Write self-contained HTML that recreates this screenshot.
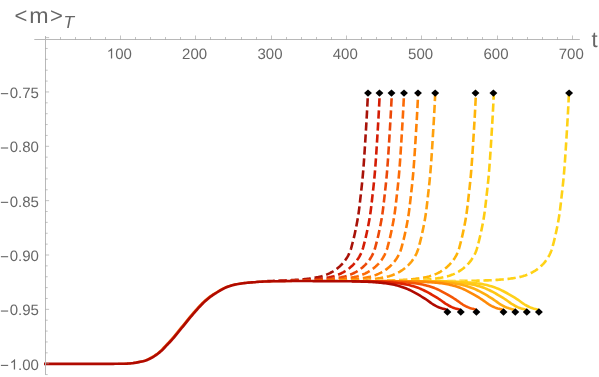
<!DOCTYPE html>
<html>
<head>
<meta charset="utf-8">
<title>plot</title>
<style>
html,body{margin:0;padding:0;background:#ffffff;}
body{width:599px;height:377px;overflow:hidden;font-family:"Liberation Sans",sans-serif;}
svg{display:block;will-change:transform;}
text{font-family:"Liberation Sans",sans-serif;text-rendering:geometricPrecision;}
</style>
</head>
<body>
<svg width="599" height="377" viewBox="0 0 599 377">
<defs><clipPath id="dclip"><polygon points="0,0 0,377 255,377 255.00,280.87 255.50,280.83 256.00,280.78 256.50,280.74 257.00,280.69 257.50,280.65 258.00,280.60 258.50,280.56 259.00,280.52 259.50,280.48 260.00,280.45 260.50,280.42 261.00,280.40 261.50,280.37 262.00,280.34 262.50,280.32 263.00,280.30 263.50,280.28 264.00,280.25 264.50,280.23 265.00,280.21 265.50,280.19 266.00,280.18 266.50,280.16 267.00,280.14 267.50,280.12 268.00,280.11 268.50,280.09 269.00,280.08 269.50,280.06 270.00,280.05 270.50,280.04 271.00,280.02 271.50,280.01 272.00,280.00 272.50,279.99 273.00,279.98 273.50,279.96 274.00,279.95 274.50,279.94 275.00,279.93 275.50,279.92 276.00,279.91 276.50,279.90 277.00,279.90 277.50,279.89 278.00,279.88 278.50,279.87 279.00,279.86 279.50,279.86 280.00,279.85 280.50,279.84 281.00,279.84 281.50,279.83 282.00,279.82 282.50,279.82 283.00,279.81 283.50,279.80 284.00,279.80 284.50,279.79 285.00,279.78 285.50,279.78 286.00,279.77 286.50,279.77 287.00,279.76 287.50,279.76 288.00,279.76 288.50,279.75 289.00,279.75 289.50,279.75 290.00,279.75 290.50,279.75 291.00,279.75 291.50,279.75 292.00,279.75 292.50,279.75 293.00,279.75 293.50,279.75 294.00,279.75 294.50,279.75 295.00,279.75 295.50,279.75 296.00,279.75 296.50,279.75 297.00,279.75 297.50,279.75 298.00,279.75 298.50,279.75 299.00,279.75 299.50,279.75 300.00,279.75 300.50,279.75 301.00,279.75 301.50,279.75 302.00,279.75 302.50,279.75 303.00,279.75 303.50,279.75 304.00,279.75 304.50,279.75 305.00,279.75 305.50,279.75 306.00,279.75 306.50,279.75 307.00,279.75 307.50,279.75 308.00,279.75 308.50,279.75 309.00,279.75 309.50,279.75 310.00,279.75 310.50,279.75 311.00,279.75 311.50,279.75 312.00,279.75 312.50,279.75 313.00,279.75 313.50,279.75 314.00,279.75 314.50,279.75 315.00,279.75 315.50,279.75 316.00,279.75 316.50,279.75 317.00,279.75 317.50,279.75 318.00,279.75 318.50,279.75 319.00,279.75 319.50,279.75 320.00,279.75 320.50,279.75 321.00,279.75 321.50,279.75 322.00,279.75 322.50,279.75 323.00,279.75 323.50,279.75 324.00,279.75 324.50,279.75 325.00,279.75 325.50,279.75 326.00,279.75 326.50,279.75 327.00,279.75 327.50,279.75 328.00,279.75 328.50,279.75 329.00,279.75 329.50,279.75 330.00,279.75 330.50,279.75 331.00,279.75 331.50,279.75 332.00,279.75 332.50,279.75 333.00,279.75 333.50,279.75 334.00,279.75 334.50,279.75 335.00,279.75 335.50,279.75 336.00,279.75 336.50,279.75 337.00,279.75 337.50,279.75 338.00,279.75 338.50,279.75 339.00,279.75 339.50,279.75 340.00,279.75 340.50,279.75 341.00,279.75 341.50,279.75 342.00,279.75 342.50,279.75 343.00,279.75 343.50,279.75 344.00,279.75 344.50,279.75 345.00,279.75 345.50,279.75 346.00,279.75 346.50,279.75 347.00,279.75 347.50,279.75 348.00,279.75 348.50,279.75 349.00,279.75 349.50,279.75 350.00,279.75 350.50,279.75 351.00,279.75 351.50,279.75 352.00,279.75 352.50,279.75 353.00,279.75 353.50,279.75 354.00,279.75 354.50,279.75 355.00,279.75 355.50,279.75 356.00,279.75 356.50,279.75 357.00,279.75 357.50,279.75 358.00,279.75 358.50,279.75 359.00,279.75 359.50,279.75 360.00,279.75 360.50,279.75 361.00,279.75 361.50,279.75 362.00,279.75 362.50,279.75 363.00,279.75 363.50,279.75 364.00,279.75 364.50,279.75 365.00,279.75 365.50,279.75 366.00,279.75 366.50,279.75 367.00,279.75 367.50,279.75 368.00,279.75 368.50,279.75 369.00,279.75 369.50,279.75 370.00,279.75 370.50,279.75 371.00,279.75 371.50,279.75 372.00,279.75 372.50,279.75 373.00,279.75 373.50,279.75 374.00,279.75 374.50,279.75 375.00,279.75 375.50,279.75 376.00,279.75 376.50,279.75 377.00,279.75 377.50,279.75 378.00,279.75 378.50,279.76 379.00,279.76 379.50,279.76 380.00,279.76 380.50,279.76 381.00,279.76 381.50,279.76 382.00,279.76 382.50,279.76 383.00,279.76 383.50,279.76 384.00,279.76 384.50,279.76 385.00,279.76 385.50,279.76 386.00,279.76 386.50,279.76 387.00,279.76 387.50,279.76 388.00,279.76 388.50,279.76 389.00,279.76 389.50,279.76 390.00,279.76 390.50,279.76 391.00,279.76 391.50,279.76 392.00,279.76 392.50,279.76 393.00,279.76 393.50,279.76 394.00,279.76 394.50,279.76 395.00,279.76 395.50,279.76 396.00,279.77 396.50,279.77 397.00,279.77 397.50,279.77 398.00,279.77 398.50,279.77 399.00,279.77 399.50,279.77 400.00,279.77 400.50,279.77 401.00,279.77 401.50,279.77 402.00,279.77 402.50,279.77 403.00,279.77 403.50,279.77 404.00,279.78 404.50,279.78 405.00,279.78 405.50,279.78 406.00,279.78 406.50,279.78 407.00,279.78 407.50,279.78 408.00,279.78 408.50,279.78 409.00,279.78 409.50,279.79 410.00,279.79 410.50,279.79 411.00,279.79 411.50,279.79 412.00,279.79 412.50,279.79 413.00,279.79 413.50,279.80 414.00,279.80 414.50,279.80 415.00,279.80 415.50,279.80 416.00,279.80 416.50,279.80 417.00,279.81 417.50,279.81 418.00,279.81 418.50,279.81 419.00,279.81 419.50,279.82 420.00,279.82 420.50,279.82 421.00,279.82 421.50,279.82 422.00,279.83 422.50,279.83 423.00,279.83 423.50,279.83 424.00,279.84 424.50,279.84 425.00,279.84 425.50,279.85 426.00,279.85 426.50,279.85 427.00,279.86 427.50,279.86 428.00,279.86 428.50,279.87 429.00,279.87 429.50,279.87 430.00,279.88 430.50,279.88 431.00,279.89 431.50,279.89 432.00,279.89 432.50,279.90 433.00,279.90 433.50,279.91 434.00,279.91 434.50,279.92 435.00,279.92 435.50,279.93 436.00,279.94 436.50,279.94 437.00,279.95 437.50,279.95 438.00,279.96 438.50,279.97 439.00,279.97 439.50,279.98 440.00,279.99 440.50,280.00 441.00,280.00 441.50,280.01 442.00,280.02 442.50,280.03 443.00,280.04 443.50,280.05 444.00,280.06 444.50,280.07 445.00,280.08 445.50,280.09 446.00,280.10 446.50,280.11 447.00,280.12 447.50,280.13 448.00,280.14 448.50,280.15 449.00,280.17 449.50,280.18 450.00,280.19 450.50,280.21 451.00,280.22 451.50,280.24 452.00,280.25 452.50,280.27 453.00,280.29 453.50,280.30 454.00,280.32 454.50,280.34 455.00,280.36 455.50,280.38 456.00,280.40 456.50,280.42 457.00,280.44 457.50,280.46 458.00,280.48 458.50,280.51 459.00,280.53 459.50,280.56 460.00,280.58 460.50,280.61 461.00,280.63 461.50,280.66 462.00,280.69 462.50,280.72 463.00,280.75 463.50,280.78 464.00,280.82 464.50,280.85 465.00,280.89 465.50,280.92 466.00,280.96 466.50,281.00 467.00,281.04 467.50,281.08 468.00,281.12 468.50,281.16 469.00,281.20 469.50,281.24 470.00,281.28 470.50,281.33 471.00,281.37 471.50,281.42 472.00,281.46 472.50,281.51 473.00,281.56 473.50,281.61 474.00,281.67 474.50,281.72 475.00,281.78 475.50,281.84 476.00,281.90 476.50,281.96 477.00,282.02 477.50,282.09 478.00,282.16 478.50,282.23 479.00,282.30 479.50,282.37 480.00,282.45 480.50,282.53 481.00,282.61 481.50,282.70 482.00,282.79 482.50,282.88 483.00,282.97 483.50,283.07 484.00,283.17 484.50,283.27 485.00,283.37 485.50,283.48 486.00,283.60 486.50,283.72 487.00,283.84 487.50,283.96 488.00,284.09 488.50,284.23 489.00,284.37 489.50,284.51 490.00,284.65 490.50,284.80 491.00,284.94 491.50,285.10 492.00,285.25 492.50,285.41 493.00,285.57 493.50,285.73 494.00,285.90 494.50,286.07 495.00,286.24 495.50,286.42 496.00,286.60 496.50,286.79 497.00,286.98 497.50,287.18 498.00,287.38 498.50,287.59 499.00,287.80 499.50,288.03 500.00,288.25 500.50,288.49 501.00,288.73 501.50,288.97 502.00,289.22 502.50,289.48 503.00,289.73 503.50,289.99 504.00,290.26 504.50,290.52 505.00,290.78 505.50,291.05 506.00,291.32 506.50,291.59 507.00,291.86 507.50,292.14 508.00,292.41 508.50,292.70 509.00,292.98 509.50,293.27 510.00,293.56 510.50,293.85 511.00,294.14 511.50,294.44 512.00,294.74 512.50,295.04 513.00,295.34 513.50,295.65 514.00,295.96 514.50,296.27 515.00,296.58 515.50,296.90 516.00,297.21 516.50,297.53 517.00,297.86 517.50,298.19 518.00,298.52 518.50,298.85 519.00,299.20 519.50,299.56 520.00,299.92 520.50,300.29 521.00,300.66 521.50,301.03 522.00,301.40 522.50,301.76 523.00,302.12 523.50,302.46 524.00,302.79 524.50,303.10 525.00,303.39 525.50,303.68 526.00,303.96 526.50,304.24 527.00,304.51 527.50,304.77 528.00,305.03 528.50,305.28 529.00,305.52 529.50,305.75 530.00,305.97 530.50,306.17 531.00,306.37 531.50,306.55 532.00,306.73 532.50,306.89 533.00,307.04 533.50,307.19 534.00,307.33 534.50,307.46 535.00,307.59 535.50,307.72 536.00,307.85 536.50,307.98 537.00,308.12 537.50,308.24 538.00,308.37 538.00,377 599,377 599,0"/></clipPath></defs>
<rect x="0" y="0" width="599" height="377" fill="#ffffff"/>
<g id="curves" fill="none" stroke-width="2.6" stroke-linejoin="round" stroke-linecap="butt">
<g clip-path="url(#dclip)">
<path d="M266.52,281.23 L267.73,281.17 L268.93,281.12 L270.13,281.07 L271.33,281.02 L272.53,280.97 L273.73,280.92 L274.93,280.87 L276.13,280.82 L277.33,280.77 L278.53,280.72 L279.73,280.68 L280.93,280.63 L282.13,280.57 L283.33,280.52 L284.53,280.46 L285.73,280.41 L286.93,280.35 L288.13,280.29 L289.33,280.24 L290.53,280.18 L291.73,280.12 L292.93,280.05 L294.13,279.99 L295.33,279.91 L296.53,279.84 L297.73,279.75 L298.93,279.67 L300.13,279.57 L301.33,279.47 L302.53,279.36 L303.73,279.25 L304.93,279.13 L306.13,279.00 L307.33,278.86 L308.53,278.72 L309.73,278.56 L310.93,278.40 L312.13,278.23 L313.33,278.04 L314.53,277.84 L315.73,277.63 L316.93,277.40 L318.13,277.15 L319.33,276.87 L320.53,276.57 L321.73,276.24 L322.93,275.88 L324.13,275.49 L325.33,275.06 L326.53,274.60 L327.73,274.09 L328.83,273.60 L329.93,273.07 L331.03,272.50 L332.13,271.90 L333.23,271.26 L334.33,270.56 L335.33,269.89 L336.33,269.17 L337.33,268.40 L338.33,267.58 L339.33,266.71 L340.23,265.88 L341.13,265.01 L342.03,264.10 L342.93,263.12 L343.73,262.18 L344.53,261.17 L345.33,260.07 L346.03,259.05 L346.73,257.98 L347.43,256.83 L348.03,255.77 L348.63,254.63 L349.23,253.38 L349.73,252.23 L350.23,250.99 L350.73,249.59 L351.13,248.28 L351.53,246.82 L351.93,245.29 L352.33,243.78 L352.73,242.25 L353.03,241.08 L353.33,239.88 L353.63,238.65 L353.93,237.39 L354.23,236.10 L354.53,234.78 L354.83,233.43 L355.13,232.04 L355.43,230.61 L355.73,229.15 L356.03,227.68 L356.33,226.19 L356.63,224.67 L356.93,223.11 L357.23,221.49 L357.53,219.82 L357.83,218.06 L358.03,216.84 L358.23,215.58 L358.43,214.26 L358.63,212.88 L358.83,211.42 L359.03,209.89 L359.23,208.30 L359.43,206.65 L359.63,204.95 L359.83,203.22 L360.03,201.46 L360.23,199.69 L360.43,197.91 L360.63,196.15 L360.83,194.39 L361.03,192.62 L361.23,190.85 L361.43,189.05 L361.63,187.23 L361.83,185.37 L362.03,183.47 L362.23,181.52 L362.43,179.51 L362.63,177.41 L362.83,175.24 L363.03,172.96 L363.23,170.57 L363.33,169.33 L363.43,168.07 L363.53,166.78 L363.63,165.47 L363.73,164.13 L363.83,162.76 L363.93,161.38 L364.03,159.97 L364.13,158.53 L364.23,157.08 L364.33,155.61 L364.43,154.12 L364.53,152.61 L364.63,151.08 L364.73,149.54 L364.83,147.99 L364.93,146.42 L365.03,144.85 L365.13,143.26 L365.23,141.66 L365.33,140.06 L365.43,138.46 L365.53,136.85 L365.63,135.24 L365.73,133.62 L365.83,132.00 L365.93,130.38 L366.03,128.74 L366.13,127.10 L366.23,125.44 L366.33,123.77 L366.43,122.08 L366.53,120.37 L366.63,118.65 L366.73,116.90 L366.83,115.12 L366.93,113.31 L367.03,111.48 L367.13,109.61 L367.23,107.70 L367.33,105.76 L367.43,103.77 L367.53,101.74 L367.63,99.64 L367.73,97.49 L367.83,95.29 L367.93,93.05 L368.00,91.60" stroke="#a81208" stroke-dasharray="8.289 3.750"/>
<path d="M278.57,280.94 L279.78,280.90 L280.98,280.87 L282.18,280.84 L283.38,280.80 L284.58,280.76 L285.78,280.73 L286.98,280.69 L288.18,280.66 L289.38,280.63 L290.58,280.60 L291.78,280.57 L292.98,280.53 L294.18,280.50 L295.38,280.46 L296.58,280.42 L297.78,280.37 L298.98,280.33 L300.18,280.28 L301.38,280.22 L302.58,280.17 L303.78,280.11 L304.98,280.04 L306.18,279.97 L307.38,279.90 L308.58,279.82 L309.78,279.74 L310.98,279.65 L312.18,279.55 L313.38,279.45 L314.58,279.34 L315.78,279.23 L316.98,279.10 L318.18,278.97 L319.38,278.83 L320.58,278.69 L321.78,278.53 L322.98,278.37 L324.18,278.19 L325.38,278.00 L326.58,277.80 L327.78,277.58 L328.98,277.35 L330.18,277.09 L331.38,276.81 L332.58,276.50 L333.78,276.17 L334.98,275.80 L336.18,275.40 L337.38,274.97 L338.58,274.49 L339.78,273.98 L340.88,273.48 L341.98,272.94 L343.08,272.37 L344.18,271.76 L345.28,271.10 L346.38,270.40 L347.38,269.71 L348.38,268.98 L349.38,268.20 L350.38,267.37 L351.28,266.57 L352.18,265.74 L353.08,264.86 L353.98,263.94 L354.88,262.95 L355.68,262.00 L356.48,260.97 L357.28,259.86 L357.98,258.83 L358.68,257.74 L359.38,256.57 L359.98,255.50 L360.58,254.33 L361.18,253.04 L361.68,251.87 L362.18,250.59 L362.58,249.44 L362.98,248.10 L363.38,246.63 L363.78,245.10 L364.18,243.59 L364.58,242.06 L364.88,240.88 L365.18,239.68 L365.48,238.44 L365.78,237.18 L366.08,235.89 L366.38,234.56 L366.68,233.20 L366.98,231.81 L367.28,230.37 L367.58,228.91 L367.88,227.44 L368.18,225.94 L368.48,224.41 L368.78,222.84 L369.08,221.22 L369.38,219.53 L369.68,217.76 L369.88,216.53 L370.08,215.25 L370.28,213.92 L370.48,212.52 L370.68,211.05 L370.88,209.50 L371.08,207.89 L371.28,206.23 L371.48,204.52 L371.68,202.78 L371.88,201.02 L372.08,199.24 L372.28,197.47 L372.48,195.71 L372.68,193.95 L372.88,192.18 L373.08,190.40 L373.28,188.60 L373.48,186.77 L373.68,184.90 L373.88,182.99 L374.08,181.02 L374.28,178.99 L374.48,176.88 L374.68,174.68 L374.88,172.37 L375.08,169.96 L375.18,168.71 L375.28,167.43 L375.38,166.13 L375.48,164.80 L375.58,163.45 L375.68,162.07 L375.78,160.67 L375.88,159.25 L375.98,157.81 L376.08,156.35 L376.18,154.87 L376.28,153.36 L376.38,151.85 L376.48,150.32 L376.58,148.77 L376.68,147.21 L376.78,145.64 L376.88,144.05 L376.98,142.46 L377.08,140.86 L377.18,139.26 L377.28,137.65 L377.38,136.04 L377.48,134.43 L377.58,132.81 L377.68,131.19 L377.78,129.56 L377.88,127.92 L377.98,126.27 L378.08,124.61 L378.18,122.93 L378.28,121.23 L378.38,119.51 L378.48,117.77 L378.58,116.01 L378.68,114.22 L378.78,112.40 L378.88,110.55 L378.98,108.66 L379.08,106.74 L379.18,104.77 L379.28,102.76 L379.38,100.70 L379.48,98.58 L379.58,96.40 L379.68,94.18 L379.78,91.92 L379.80,91.60" stroke="#d41c04" stroke-dasharray="8.277 3.750"/>
<path d="M290.62,280.82 L291.83,280.80 L293.03,280.78 L294.23,280.77 L295.43,280.75 L296.63,280.73 L297.83,280.70 L299.03,280.68 L300.23,280.65 L301.43,280.63 L302.63,280.60 L303.83,280.57 L305.03,280.53 L306.23,280.50 L307.43,280.46 L308.63,280.42 L309.83,280.38 L311.03,280.33 L312.23,280.28 L313.43,280.23 L314.63,280.17 L315.83,280.11 L317.03,280.04 L318.23,279.97 L319.43,279.90 L320.63,279.82 L321.83,279.74 L323.03,279.65 L324.23,279.55 L325.43,279.45 L326.63,279.35 L327.83,279.23 L329.03,279.11 L330.23,278.98 L331.43,278.84 L332.63,278.69 L333.83,278.54 L335.03,278.37 L336.23,278.20 L337.43,278.01 L338.63,277.81 L339.83,277.59 L341.03,277.36 L342.23,277.10 L343.43,276.82 L344.63,276.52 L345.83,276.18 L347.03,275.82 L348.23,275.42 L349.43,274.98 L350.63,274.51 L351.83,274.01 L352.93,273.51 L354.03,272.97 L355.13,272.40 L356.23,271.79 L357.33,271.13 L358.43,270.43 L359.43,269.75 L360.43,269.02 L361.43,268.24 L362.43,267.41 L363.43,266.53 L364.33,265.69 L365.23,264.81 L366.13,263.88 L367.03,262.89 L367.83,261.94 L368.63,260.91 L369.33,259.93 L370.03,258.90 L370.73,257.82 L371.43,256.66 L372.03,255.59 L372.63,254.43 L373.23,253.16 L373.73,251.99 L374.23,250.72 L374.73,249.28 L375.13,247.92 L375.53,246.44 L375.93,244.91 L376.33,243.40 L376.73,241.86 L377.03,240.68 L377.33,239.47 L377.63,238.23 L377.93,236.97 L378.23,235.67 L378.53,234.34 L378.83,232.97 L379.13,231.57 L379.43,230.13 L379.73,228.67 L380.03,227.19 L380.33,225.69 L380.63,224.15 L380.93,222.58 L381.23,220.94 L381.53,219.24 L381.83,217.46 L382.03,216.22 L382.23,214.92 L382.43,213.58 L382.63,212.16 L382.83,210.67 L383.03,209.10 L383.23,207.48 L383.43,205.81 L383.63,204.09 L383.83,202.34 L384.03,200.57 L384.23,198.80 L384.43,197.03 L384.63,195.27 L384.83,193.51 L385.03,191.74 L385.23,189.95 L385.43,188.14 L385.63,186.31 L385.83,184.43 L386.03,182.51 L386.23,180.52 L386.43,178.47 L386.63,176.34 L386.83,174.11 L387.03,171.78 L387.13,170.57 L387.23,169.33 L387.33,168.07 L387.43,166.78 L387.53,165.47 L387.63,164.13 L387.73,162.76 L387.83,161.38 L387.93,159.97 L388.03,158.53 L388.13,157.08 L388.23,155.61 L388.33,154.12 L388.43,152.61 L388.53,151.08 L388.63,149.54 L388.73,147.99 L388.83,146.42 L388.93,144.85 L389.03,143.26 L389.13,141.66 L389.23,140.06 L389.33,138.46 L389.43,136.85 L389.53,135.24 L389.63,133.62 L389.73,132.00 L389.83,130.38 L389.93,128.74 L390.03,127.10 L390.13,125.44 L390.23,123.77 L390.33,122.08 L390.43,120.37 L390.53,118.65 L390.63,116.90 L390.73,115.12 L390.83,113.31 L390.93,111.48 L391.03,109.61 L391.13,107.70 L391.23,105.76 L391.33,103.77 L391.43,101.74 L391.53,99.64 L391.63,97.49 L391.73,95.29 L391.83,93.05 L391.90,91.60" stroke="#ec4808" stroke-dasharray="8.279 3.750"/>
<path d="M302.68,280.82 L303.88,280.80 L305.08,280.79 L306.28,280.77 L307.48,280.75 L308.68,280.73 L309.88,280.71 L311.08,280.68 L312.28,280.66 L313.48,280.63 L314.68,280.60 L315.88,280.57 L317.08,280.54 L318.28,280.50 L319.48,280.46 L320.68,280.42 L321.88,280.38 L323.08,280.33 L324.28,280.29 L325.48,280.23 L326.68,280.18 L327.88,280.12 L329.08,280.05 L330.28,279.98 L331.48,279.91 L332.68,279.83 L333.88,279.75 L335.08,279.66 L336.28,279.57 L337.48,279.47 L338.68,279.36 L339.88,279.25 L341.08,279.12 L342.28,278.99 L343.48,278.86 L344.68,278.71 L345.88,278.56 L347.08,278.39 L348.28,278.22 L349.48,278.03 L350.68,277.84 L351.88,277.62 L353.08,277.39 L354.28,277.14 L355.48,276.86 L356.68,276.56 L357.88,276.23 L359.08,275.86 L360.28,275.47 L361.48,275.04 L362.68,274.57 L363.88,274.07 L364.98,273.58 L366.08,273.04 L367.18,272.48 L368.28,271.87 L369.38,271.23 L370.48,270.53 L371.48,269.85 L372.48,269.13 L373.48,268.36 L374.48,267.54 L375.48,266.66 L376.38,265.83 L377.28,264.96 L378.18,264.04 L379.08,263.06 L379.88,262.12 L380.68,261.11 L381.48,260.00 L382.18,258.98 L382.88,257.90 L383.58,256.75 L384.18,255.68 L384.78,254.53 L385.38,253.27 L385.88,252.12 L386.38,250.86 L386.88,249.44 L387.28,248.10 L387.68,246.63 L388.08,245.10 L388.48,243.59 L388.88,242.06 L389.18,240.88 L389.48,239.68 L389.78,238.44 L390.08,237.18 L390.38,235.89 L390.68,234.56 L390.98,233.20 L391.28,231.81 L391.58,230.37 L391.88,228.91 L392.18,227.44 L392.48,225.94 L392.78,224.41 L393.08,222.84 L393.38,221.22 L393.68,219.53 L393.98,217.76 L394.18,216.53 L394.38,215.25 L394.58,213.92 L394.78,212.52 L394.98,211.05 L395.18,209.50 L395.38,207.89 L395.58,206.23 L395.78,204.52 L395.98,202.78 L396.18,201.02 L396.38,199.24 L396.58,197.47 L396.78,195.71 L396.98,193.95 L397.18,192.18 L397.38,190.40 L397.58,188.60 L397.78,186.77 L397.98,184.90 L398.18,182.99 L398.38,181.02 L398.58,178.99 L398.78,176.88 L398.98,174.68 L399.18,172.37 L399.38,169.96 L399.48,168.71 L399.58,167.43 L399.68,166.13 L399.78,164.80 L399.88,163.45 L399.98,162.07 L400.08,160.67 L400.18,159.25 L400.28,157.81 L400.38,156.35 L400.48,154.87 L400.58,153.36 L400.68,151.85 L400.78,150.32 L400.88,148.77 L400.98,147.21 L401.08,145.64 L401.18,144.05 L401.28,142.46 L401.38,140.86 L401.48,139.26 L401.58,137.65 L401.68,136.04 L401.78,134.43 L401.88,132.81 L401.98,131.19 L402.08,129.56 L402.18,127.92 L402.28,126.27 L402.38,124.61 L402.48,122.93 L402.58,121.23 L402.68,119.51 L402.78,117.77 L402.88,116.01 L402.98,114.22 L403.08,112.40 L403.18,110.55 L403.28,108.66 L403.38,106.74 L403.48,104.77 L403.58,102.76 L403.68,100.70 L403.78,98.58 L403.88,96.40 L403.98,94.18 L404.08,91.92 L404.10,91.60" stroke="#fc6a06" stroke-dasharray="8.286 3.750"/>
<path d="M314.73,280.84 L315.93,280.83 L317.13,280.82 L318.33,280.80 L319.53,280.78 L320.73,280.76 L321.93,280.74 L323.13,280.72 L324.33,280.70 L325.53,280.68 L326.73,280.65 L327.93,280.62 L329.13,280.59 L330.33,280.56 L331.53,280.53 L332.73,280.49 L333.93,280.45 L335.13,280.41 L336.33,280.37 L337.53,280.32 L338.73,280.27 L339.93,280.22 L341.13,280.16 L342.33,280.10 L343.53,280.03 L344.73,279.96 L345.93,279.89 L347.13,279.81 L348.33,279.72 L349.53,279.63 L350.73,279.54 L351.93,279.44 L353.13,279.33 L354.33,279.21 L355.53,279.09 L356.73,278.95 L357.93,278.81 L359.13,278.67 L360.33,278.51 L361.53,278.34 L362.73,278.17 L363.93,277.98 L365.13,277.78 L366.33,277.56 L367.53,277.32 L368.73,277.06 L369.93,276.78 L371.13,276.46 L372.33,276.12 L373.53,275.75 L374.73,275.35 L375.93,274.91 L377.13,274.43 L378.33,273.92 L379.43,273.41 L380.53,272.87 L381.63,272.29 L382.73,271.67 L383.83,271.01 L384.93,270.30 L385.93,269.61 L386.93,268.87 L387.93,268.08 L388.93,267.24 L389.83,266.44 L390.73,265.59 L391.63,264.71 L392.53,263.78 L393.43,262.78 L394.23,261.81 L395.03,260.77 L395.73,259.78 L396.43,258.75 L397.13,257.66 L397.83,256.49 L398.43,255.40 L399.03,254.22 L399.63,252.93 L400.13,251.75 L400.63,250.45 L401.03,249.28 L401.43,247.92 L401.83,246.44 L402.23,244.91 L402.63,243.40 L403.03,241.86 L403.33,240.68 L403.63,239.47 L403.93,238.23 L404.23,236.97 L404.53,235.67 L404.83,234.34 L405.13,232.97 L405.43,231.57 L405.73,230.13 L406.03,228.67 L406.33,227.19 L406.63,225.69 L406.93,224.15 L407.23,222.58 L407.53,220.94 L407.83,219.24 L408.13,217.46 L408.33,216.22 L408.53,214.92 L408.73,213.58 L408.93,212.16 L409.13,210.67 L409.33,209.10 L409.53,207.48 L409.73,205.81 L409.93,204.09 L410.13,202.34 L410.33,200.57 L410.53,198.80 L410.73,197.03 L410.93,195.27 L411.13,193.51 L411.33,191.74 L411.53,189.95 L411.73,188.14 L411.93,186.31 L412.13,184.43 L412.33,182.51 L412.53,180.52 L412.73,178.47 L412.93,176.34 L413.13,174.11 L413.33,171.78 L413.43,170.57 L413.53,169.33 L413.63,168.07 L413.73,166.78 L413.83,165.47 L413.93,164.13 L414.03,162.76 L414.13,161.38 L414.23,159.97 L414.33,158.53 L414.43,157.08 L414.53,155.61 L414.63,154.12 L414.73,152.61 L414.83,151.08 L414.93,149.54 L415.03,147.99 L415.13,146.42 L415.23,144.85 L415.33,143.26 L415.43,141.66 L415.53,140.06 L415.63,138.46 L415.73,136.85 L415.83,135.24 L415.93,133.62 L416.03,132.00 L416.13,130.38 L416.23,128.74 L416.33,127.10 L416.43,125.44 L416.53,123.77 L416.63,122.08 L416.73,120.37 L416.83,118.65 L416.93,116.90 L417.03,115.12 L417.13,113.31 L417.23,111.48 L417.33,109.61 L417.43,107.70 L417.53,105.76 L417.63,103.77 L417.73,101.74 L417.83,99.64 L417.93,97.49 L418.03,95.29 L418.13,93.05 L418.20,91.60" stroke="#ff8204" stroke-dasharray="8.312 3.750"/>
<path d="M326.78,280.89 L327.98,280.88 L329.18,280.87 L330.38,280.86 L331.58,280.85 L332.78,280.83 L333.98,280.82 L335.18,280.80 L336.38,280.79 L337.58,280.77 L338.78,280.75 L339.98,280.73 L341.18,280.70 L342.38,280.68 L343.58,280.66 L344.78,280.63 L345.98,280.60 L347.18,280.57 L348.38,280.53 L349.58,280.50 L350.78,280.46 L351.98,280.42 L353.18,280.38 L354.38,280.33 L355.58,280.28 L356.78,280.23 L357.98,280.17 L359.18,280.11 L360.38,280.05 L361.58,279.98 L362.78,279.90 L363.98,279.83 L365.18,279.74 L366.38,279.65 L367.58,279.56 L368.78,279.46 L369.98,279.35 L371.18,279.24 L372.38,279.11 L373.58,278.98 L374.78,278.84 L375.98,278.70 L377.18,278.54 L378.38,278.38 L379.58,278.21 L380.78,278.02 L381.98,277.82 L383.18,277.60 L384.38,277.37 L385.58,277.12 L386.78,276.84 L387.98,276.53 L389.18,276.20 L390.38,275.83 L391.58,275.43 L392.78,275.00 L393.98,274.53 L395.18,274.03 L396.28,273.53 L397.38,272.99 L398.48,272.43 L399.58,271.82 L400.68,271.17 L401.78,270.47 L402.78,269.78 L403.78,269.06 L404.78,268.28 L405.78,267.45 L406.78,266.57 L407.68,265.74 L408.58,264.86 L409.48,263.94 L410.38,262.95 L411.18,262.00 L411.98,260.97 L412.78,259.86 L413.48,258.83 L414.18,257.74 L414.88,256.57 L415.48,255.50 L416.08,254.33 L416.68,253.04 L417.18,251.87 L417.68,250.59 L418.08,249.44 L418.48,248.10 L418.88,246.63 L419.28,245.10 L419.68,243.59 L420.08,242.06 L420.38,240.88 L420.68,239.68 L420.98,238.44 L421.28,237.18 L421.58,235.89 L421.88,234.56 L422.18,233.20 L422.48,231.81 L422.78,230.37 L423.08,228.91 L423.38,227.44 L423.68,225.94 L423.98,224.41 L424.28,222.84 L424.58,221.22 L424.88,219.53 L425.18,217.76 L425.38,216.53 L425.58,215.25 L425.78,213.92 L425.98,212.52 L426.18,211.05 L426.38,209.50 L426.58,207.89 L426.78,206.23 L426.98,204.52 L427.18,202.78 L427.38,201.02 L427.58,199.24 L427.78,197.47 L427.98,195.71 L428.18,193.95 L428.38,192.18 L428.58,190.40 L428.78,188.60 L428.98,186.77 L429.18,184.90 L429.38,182.99 L429.58,181.02 L429.78,178.99 L429.98,176.88 L430.18,174.68 L430.38,172.37 L430.58,169.96 L430.68,168.71 L430.78,167.43 L430.88,166.13 L430.98,164.80 L431.08,163.45 L431.18,162.07 L431.28,160.67 L431.38,159.25 L431.48,157.81 L431.58,156.35 L431.68,154.87 L431.78,153.36 L431.88,151.85 L431.98,150.32 L432.08,148.77 L432.18,147.21 L432.28,145.64 L432.38,144.05 L432.48,142.46 L432.58,140.86 L432.68,139.26 L432.78,137.65 L432.88,136.04 L432.98,134.43 L433.08,132.81 L433.18,131.19 L433.28,129.56 L433.38,127.92 L433.48,126.27 L433.58,124.61 L433.68,122.93 L433.78,121.23 L433.88,119.51 L433.98,117.77 L434.08,116.01 L434.18,114.22 L434.28,112.40 L434.38,110.55 L434.48,108.66 L434.58,106.74 L434.68,104.77 L434.78,102.76 L434.88,100.70 L434.98,98.58 L435.08,96.40 L435.18,94.18 L435.28,91.92 L435.30,91.60" stroke="#ffa00c" stroke-dasharray="8.310 3.750"/>
<path d="M374.98,280.81 L376.18,280.80 L377.38,280.78 L378.58,280.76 L379.78,280.74 L380.98,280.72 L382.18,280.70 L383.38,280.67 L384.58,280.65 L385.78,280.62 L386.98,280.59 L388.18,280.56 L389.38,280.53 L390.58,280.49 L391.78,280.45 L392.98,280.41 L394.18,280.37 L395.38,280.32 L396.58,280.27 L397.78,280.21 L398.98,280.16 L400.18,280.09 L401.38,280.03 L402.58,279.96 L403.78,279.88 L404.98,279.81 L406.18,279.72 L407.38,279.63 L408.58,279.53 L409.78,279.43 L410.98,279.32 L412.18,279.21 L413.38,279.08 L414.58,278.95 L415.78,278.81 L416.98,278.66 L418.18,278.50 L419.38,278.34 L420.58,278.16 L421.78,277.97 L422.98,277.77 L424.18,277.55 L425.38,277.31 L426.58,277.05 L427.78,276.76 L428.98,276.45 L430.18,276.11 L431.38,275.74 L432.58,275.33 L433.78,274.89 L434.98,274.41 L436.18,273.90 L437.28,273.39 L438.38,272.84 L439.48,272.26 L440.58,271.64 L441.68,270.98 L442.78,270.27 L443.78,269.57 L444.78,268.83 L445.78,268.04 L446.78,267.20 L447.68,266.39 L448.58,265.55 L449.48,264.66 L450.38,263.72 L451.28,262.72 L452.08,261.75 L452.88,260.70 L453.58,259.71 L454.28,258.67 L454.98,257.58 L455.68,256.40 L456.28,255.31 L456.88,254.12 L457.48,252.82 L457.98,251.63 L458.48,250.32 L458.88,249.12 L459.28,247.74 L459.68,246.25 L460.08,244.72 L460.48,243.21 L460.88,241.67 L461.18,240.48 L461.48,239.27 L461.78,238.02 L462.08,236.75 L462.38,235.45 L462.68,234.11 L462.98,232.74 L463.28,231.33 L463.58,229.89 L463.88,228.42 L464.18,226.94 L464.48,225.43 L464.78,223.89 L465.08,222.31 L465.38,220.67 L465.68,218.95 L465.88,217.76 L466.08,216.53 L466.28,215.25 L466.48,213.92 L466.68,212.52 L466.88,211.05 L467.08,209.50 L467.28,207.89 L467.48,206.23 L467.68,204.52 L467.88,202.78 L468.08,201.02 L468.28,199.24 L468.48,197.47 L468.68,195.71 L468.88,193.95 L469.08,192.18 L469.28,190.40 L469.48,188.60 L469.68,186.77 L469.88,184.90 L470.08,182.99 L470.28,181.02 L470.48,178.99 L470.68,176.88 L470.88,174.68 L471.08,172.37 L471.28,169.96 L471.38,168.71 L471.48,167.43 L471.58,166.13 L471.68,164.80 L471.78,163.45 L471.88,162.07 L471.98,160.67 L472.08,159.25 L472.18,157.81 L472.28,156.35 L472.38,154.87 L472.48,153.36 L472.58,151.85 L472.68,150.32 L472.78,148.77 L472.88,147.21 L472.98,145.64 L473.08,144.05 L473.18,142.46 L473.28,140.86 L473.38,139.26 L473.48,137.65 L473.58,136.04 L473.68,134.43 L473.78,132.81 L473.88,131.19 L473.98,129.56 L474.08,127.92 L474.18,126.27 L474.28,124.61 L474.38,122.93 L474.48,121.23 L474.58,119.51 L474.68,117.77 L474.78,116.01 L474.88,114.22 L474.98,112.40 L475.08,110.55 L475.18,108.66 L475.28,106.74 L475.38,104.77 L475.48,102.76 L475.58,100.70 L475.68,98.58 L475.78,96.40 L475.88,94.18 L475.98,91.92 L476.00,91.60" stroke="#ffb408" stroke-dasharray="8.301 3.750"/>
<path d="M387.03,280.88 L388.23,280.87 L389.43,280.86 L390.63,280.84 L391.83,280.83 L393.03,280.81 L394.23,280.80 L395.43,280.78 L396.63,280.76 L397.83,280.74 L399.03,280.72 L400.23,280.70 L401.43,280.67 L402.63,280.65 L403.83,280.62 L405.03,280.59 L406.23,280.56 L407.43,280.52 L408.63,280.48 L409.83,280.45 L411.03,280.40 L412.23,280.36 L413.43,280.31 L414.63,280.26 L415.83,280.21 L417.03,280.15 L418.23,280.09 L419.43,280.02 L420.63,279.95 L421.83,279.88 L423.03,279.80 L424.23,279.71 L425.43,279.62 L426.63,279.52 L427.83,279.42 L429.03,279.31 L430.23,279.19 L431.43,279.07 L432.63,278.93 L433.83,278.79 L435.03,278.64 L436.23,278.48 L437.43,278.32 L438.63,278.14 L439.83,277.95 L441.03,277.74 L442.23,277.52 L443.43,277.28 L444.63,277.01 L445.83,276.73 L447.03,276.41 L448.23,276.06 L449.43,275.69 L450.63,275.28 L451.83,274.83 L453.03,274.35 L454.23,273.83 L455.33,273.31 L456.43,272.77 L457.53,272.18 L458.63,271.56 L459.73,270.89 L460.83,270.16 L461.83,269.46 L462.83,268.71 L463.83,267.92 L464.83,267.06 L465.73,266.25 L466.63,265.40 L467.53,264.51 L468.43,263.56 L469.23,262.66 L470.03,261.69 L470.83,260.63 L471.53,259.64 L472.23,258.60 L472.93,257.50 L473.63,256.31 L474.23,255.21 L474.83,254.02 L475.43,252.70 L475.93,251.50 L476.43,250.18 L476.83,248.96 L477.23,247.56 L477.63,246.06 L478.03,244.53 L478.43,243.02 L478.83,241.47 L479.13,240.28 L479.43,239.06 L479.73,237.81 L480.03,236.54 L480.33,235.23 L480.63,233.89 L480.93,232.51 L481.23,231.09 L481.53,229.64 L481.83,228.17 L482.13,226.69 L482.43,225.18 L482.73,223.63 L483.03,222.04 L483.33,220.38 L483.63,218.66 L483.83,217.46 L484.03,216.22 L484.23,214.92 L484.43,213.58 L484.63,212.16 L484.83,210.67 L485.03,209.10 L485.23,207.48 L485.43,205.81 L485.63,204.09 L485.83,202.34 L486.03,200.57 L486.23,198.80 L486.43,197.03 L486.63,195.27 L486.83,193.51 L487.03,191.74 L487.23,189.95 L487.43,188.14 L487.63,186.31 L487.83,184.43 L488.03,182.51 L488.23,180.52 L488.43,178.47 L488.63,176.34 L488.83,174.11 L489.03,171.78 L489.13,170.57 L489.23,169.33 L489.33,168.07 L489.43,166.78 L489.53,165.47 L489.63,164.13 L489.73,162.76 L489.83,161.38 L489.93,159.97 L490.03,158.53 L490.13,157.08 L490.23,155.61 L490.33,154.12 L490.43,152.61 L490.53,151.08 L490.63,149.54 L490.73,147.99 L490.83,146.42 L490.93,144.85 L491.03,143.26 L491.13,141.66 L491.23,140.06 L491.33,138.46 L491.43,136.85 L491.53,135.24 L491.63,133.62 L491.73,132.00 L491.83,130.38 L491.93,128.74 L492.03,127.10 L492.13,125.44 L492.23,123.77 L492.33,122.08 L492.43,120.37 L492.53,118.65 L492.63,116.90 L492.73,115.12 L492.83,113.31 L492.93,111.48 L493.03,109.61 L493.13,107.70 L493.23,105.76 L493.33,103.77 L493.43,101.74 L493.53,99.64 L493.63,97.49 L493.73,95.29 L493.83,93.05 L493.90,91.60" stroke="#ffcc10" stroke-dasharray="8.298 3.750"/>
<path d="M423.18,281.03 L424.38,281.03 L425.58,281.03 L426.78,281.03 L427.98,281.02 L429.18,281.02 L430.38,281.02 L431.58,281.02 L432.78,281.02 L433.98,281.01 L435.18,281.01 L436.38,281.01 L437.58,281.01 L438.78,281.00 L439.98,281.00 L441.18,281.00 L442.38,280.99 L443.58,280.99 L444.78,280.99 L445.98,280.98 L447.18,280.98 L448.38,280.97 L449.58,280.97 L450.78,280.96 L451.98,280.95 L453.18,280.95 L454.38,280.94 L455.58,280.93 L456.78,280.92 L457.98,280.91 L459.18,280.91 L460.38,280.90 L461.58,280.88 L462.78,280.87 L463.98,280.86 L465.18,280.85 L466.38,280.83 L467.58,280.82 L468.78,280.80 L469.98,280.79 L471.18,280.77 L472.38,280.75 L473.58,280.73 L474.78,280.71 L475.98,280.68 L477.18,280.66 L478.38,280.63 L479.58,280.60 L480.78,280.57 L481.98,280.54 L483.18,280.50 L484.38,280.46 L485.58,280.42 L486.78,280.38 L487.98,280.33 L489.18,280.29 L490.38,280.23 L491.58,280.18 L492.78,280.12 L493.98,280.05 L495.18,279.98 L496.38,279.91 L497.58,279.83 L498.78,279.75 L499.98,279.66 L501.18,279.57 L502.38,279.47 L503.58,279.36 L504.78,279.25 L505.98,279.12 L507.18,278.99 L508.38,278.86 L509.58,278.71 L510.78,278.56 L511.98,278.39 L513.18,278.22 L514.38,278.03 L515.58,277.84 L516.78,277.62 L517.98,277.39 L519.18,277.14 L520.38,276.86 L521.58,276.56 L522.78,276.23 L523.98,275.86 L525.18,275.47 L526.38,275.04 L527.58,274.57 L528.78,274.07 L529.88,273.58 L530.98,273.04 L532.08,272.48 L533.18,271.87 L534.28,271.23 L535.38,270.53 L536.38,269.85 L537.38,269.13 L538.38,268.36 L539.38,267.54 L540.38,266.66 L541.28,265.83 L542.18,264.96 L543.08,264.04 L543.98,263.06 L544.78,262.12 L545.58,261.11 L546.38,260.00 L547.08,258.98 L547.78,257.90 L548.48,256.75 L549.08,255.68 L549.68,254.53 L550.28,253.27 L550.78,252.12 L551.28,250.86 L551.78,249.44 L552.18,248.10 L552.58,246.63 L552.98,245.10 L553.38,243.59 L553.78,242.06 L554.08,240.88 L554.38,239.68 L554.68,238.44 L554.98,237.18 L555.28,235.89 L555.58,234.56 L555.88,233.20 L556.18,231.81 L556.48,230.37 L556.78,228.91 L557.08,227.44 L557.38,225.94 L557.68,224.41 L557.98,222.84 L558.28,221.22 L558.58,219.53 L558.88,217.76 L559.08,216.53 L559.28,215.25 L559.48,213.92 L559.68,212.52 L559.88,211.05 L560.08,209.50 L560.28,207.89 L560.48,206.23 L560.68,204.52 L560.88,202.78 L561.08,201.02 L561.28,199.24 L561.48,197.47 L561.68,195.71 L561.88,193.95 L562.08,192.18 L562.28,190.40 L562.48,188.60 L562.68,186.77 L562.88,184.90 L563.08,182.99 L563.28,181.02 L563.48,178.99 L563.68,176.88 L563.88,174.68 L564.08,172.37 L564.28,169.96 L564.38,168.71 L564.48,167.43 L564.58,166.13 L564.68,164.80 L564.78,163.45 L564.88,162.07 L564.98,160.67 L565.08,159.25 L565.18,157.81 L565.28,156.35 L565.38,154.87 L565.48,153.36 L565.58,151.85 L565.68,150.32 L565.78,148.77 L565.88,147.21 L565.98,145.64 L566.08,144.05 L566.18,142.46 L566.28,140.86 L566.38,139.26 L566.48,137.65 L566.58,136.04 L566.68,134.43 L566.78,132.81 L566.88,131.19 L566.98,129.56 L567.08,127.92 L567.18,126.27 L567.28,124.61 L567.38,122.93 L567.48,121.23 L567.58,119.51 L567.68,117.77 L567.78,116.01 L567.88,114.22 L567.98,112.40 L568.08,110.55 L568.18,108.66 L568.28,106.74 L568.38,104.77 L568.48,102.76 L568.58,100.70 L568.68,98.58 L568.78,96.40 L568.88,94.18 L568.98,91.92 L569.00,91.60" stroke="#ffd216" stroke-dasharray="8.302 3.750"/>
</g>
<path d="M118.00,363.80 L119.50,363.80 L121.00,363.78 L122.50,363.76 L124.00,363.73 L125.50,363.68 L127.00,363.60 L128.50,363.48 L130.00,363.34 L131.50,363.18 L133.00,362.98 L134.50,362.74 L136.00,362.48 L137.50,362.20 L139.00,361.90 L140.50,361.60 L142.00,361.29 L143.50,360.92 L145.00,360.45 L146.40,359.90 L147.80,359.27 L149.20,358.57 L150.60,357.82 L152.00,357.04 L153.30,356.25 L154.60,355.40 L155.90,354.50 L157.20,353.54 L158.40,352.60 L159.60,351.61 L160.80,350.58 L161.90,349.52 L163.00,348.30 L164.10,347.08 L165.20,345.92 L166.30,344.77 L167.40,343.63 L168.50,342.48 L169.60,341.31 L170.70,340.11 L171.70,338.99 L172.70,337.83 L173.70,336.65 L174.70,335.45 L175.70,334.23 L176.70,332.99 L177.70,331.75 L178.70,330.51 L179.70,329.27 L180.70,328.04 L181.70,326.82 L182.70,325.59 L183.70,324.35 L184.70,323.10 L185.70,321.86 L186.70,320.61 L187.70,319.38 L188.70,318.16 L189.70,316.95 L190.70,315.77 L191.70,314.62 L192.70,313.47 L193.70,312.32 L194.70,311.17 L195.70,310.04 L196.70,308.91 L197.80,307.69 L198.90,306.49 L200.00,305.33 L201.10,304.19 L202.20,303.09 L203.30,302.03 L204.50,300.93 L205.70,299.88 L206.90,298.87 L208.10,297.90 L209.30,296.97 L210.60,296.00 L211.90,295.08 L213.20,294.21 L214.50,293.39 L215.80,292.62 L217.10,291.86 L218.40,291.07 L219.70,290.28 L221.10,289.50 L222.50,288.76 L223.90,288.04 L225.30,287.38 L226.70,286.78 L228.20,286.24 L229.70,285.76 L231.20,285.32 L232.70,284.94 L234.20,284.60 L235.70,284.30 L237.20,284.02 L238.70,283.78 L240.20,283.55 L241.70,283.34 L243.20,283.14 L244.70,282.96 L246.20,282.79 L247.70,282.64 L249.20,282.52 L250.70,282.41 L252.20,282.30 L253.70,282.19 L255.20,282.07 L256.70,281.93 L258.20,281.80 L259.70,281.71 L261.20,281.63 L262.70,281.57 L264.20,281.51 L265.70,281.45 L267.20,281.40 L268.70,281.36 L270.20,281.32 L271.70,281.28 L273.20,281.25 L274.70,281.22 L276.20,281.19 L277.70,281.17 L279.20,281.15 L280.70,281.13 L282.20,281.11 L283.70,281.09 L285.20,281.07 L286.70,281.06 L288.20,281.05 L289.70,281.05 L291.30,281.05 L291.90,281.05" stroke="#ee5a0c" stroke-width="2.20"/>
<path d="M431.35,281.19 L432.85,281.20 L434.35,281.22 L435.85,281.23 L437.35,281.25 L438.85,281.27 L440.35,281.29 L441.85,281.32 L443.35,281.34 L444.85,281.37 L446.35,281.40 L447.85,281.44 L449.35,281.48 L450.85,281.52 L452.35,281.57 L453.85,281.62 L455.35,281.67 L456.85,281.73 L458.35,281.80 L459.85,281.87 L461.35,281.95 L462.85,282.04 L464.35,282.14 L465.85,282.25 L467.35,282.37 L468.85,282.49 L470.35,282.61 L471.85,282.75 L473.35,282.90 L474.85,283.06 L476.35,283.24 L477.85,283.44 L479.35,283.65 L480.85,283.89 L482.35,284.15 L483.85,284.44 L485.35,284.75 L486.85,285.10 L488.35,285.49 L489.85,285.91 L491.35,286.35 L492.85,286.82 L494.35,287.31 L495.85,287.85 L497.35,288.42 L498.75,288.99 L500.15,289.62 L501.55,290.30 L502.95,291.01 L504.35,291.74 L505.75,292.48 L507.15,293.24 L508.55,294.02 L509.95,294.83 L511.25,295.59 L512.55,296.37 L513.85,297.16 L515.15,297.97 L516.45,298.80 L517.75,299.65 L519.05,300.54 L520.35,301.48 L521.65,302.44 L522.95,303.38 L524.25,304.25 L525.55,305.01 L526.95,305.78 L528.35,306.50 L529.75,307.16 L531.15,307.73 L532.65,308.23 L534.15,308.67 L535.65,309.06 L537.15,309.45 L538.35,309.75" stroke="#ffd01a"/>
<path d="M419.30,281.19 L420.80,281.20 L422.30,281.22 L423.80,281.23 L425.30,281.25 L426.80,281.27 L428.30,281.29 L429.80,281.32 L431.30,281.34 L432.80,281.37 L434.30,281.40 L435.80,281.44 L437.30,281.48 L438.80,281.52 L440.30,281.56 L441.80,281.61 L443.30,281.67 L444.80,281.73 L446.30,281.80 L447.80,281.87 L449.30,281.95 L450.80,282.04 L452.30,282.14 L453.80,282.24 L455.30,282.36 L456.80,282.48 L458.30,282.61 L459.80,282.74 L461.30,282.89 L462.80,283.06 L464.30,283.23 L465.80,283.43 L467.30,283.64 L468.80,283.88 L470.30,284.14 L471.80,284.43 L473.30,284.74 L474.80,285.09 L476.30,285.47 L477.80,285.89 L479.30,286.33 L480.80,286.80 L482.30,287.30 L483.80,287.83 L485.30,288.40 L486.70,288.97 L488.10,289.60 L489.50,290.27 L490.90,290.98 L492.30,291.71 L493.70,292.45 L495.10,293.21 L496.50,294.00 L497.90,294.80 L499.20,295.56 L500.50,296.34 L501.80,297.13 L503.10,297.94 L504.40,298.77 L505.70,299.62 L507.00,300.50 L508.30,301.44 L509.60,302.41 L510.90,303.35 L512.20,304.22 L513.50,304.98 L514.90,305.76 L516.30,306.48 L517.70,307.14 L519.10,307.71 L520.60,308.22 L522.10,308.65 L523.60,309.05 L525.10,309.44 L526.35,309.75" stroke="#ffc616"/>
<path d="M407.75,281.19 L409.25,281.21 L410.75,281.22 L412.25,281.24 L413.75,281.26 L415.25,281.28 L416.75,281.30 L418.25,281.32 L419.75,281.35 L421.25,281.38 L422.75,281.41 L424.25,281.45 L425.75,281.49 L427.25,281.53 L428.75,281.58 L430.25,281.63 L431.75,281.69 L433.25,281.75 L434.75,281.82 L436.25,281.90 L437.75,281.98 L439.25,282.07 L440.75,282.17 L442.25,282.28 L443.75,282.40 L445.25,282.53 L446.75,282.65 L448.25,282.79 L449.75,282.95 L451.25,283.11 L452.75,283.30 L454.25,283.50 L455.75,283.72 L457.25,283.96 L458.75,284.23 L460.25,284.53 L461.75,284.85 L463.25,285.21 L464.75,285.61 L466.25,286.04 L467.75,286.49 L469.25,286.96 L470.75,287.47 L472.25,288.01 L473.65,288.56 L475.05,289.15 L476.45,289.79 L477.85,290.47 L479.25,291.19 L480.65,291.92 L482.05,292.67 L483.45,293.44 L484.85,294.22 L486.15,294.97 L487.45,295.74 L488.75,296.52 L490.05,297.32 L491.35,298.13 L492.65,298.96 L493.95,299.82 L495.25,300.72 L496.55,301.66 L497.85,302.63 L499.15,303.56 L500.45,304.40 L501.85,305.21 L503.25,305.97 L504.65,306.68 L506.05,307.31 L507.45,307.85 L508.95,308.34 L510.45,308.76 L511.95,309.15 L513.45,309.54 L514.30,309.75" stroke="#ffae10"/>
<path d="M381.40,281.11 L382.90,281.11 L384.40,281.12 L385.90,281.12 L387.40,281.13 L388.90,281.14 L390.40,281.15 L391.90,281.16 L393.40,281.17 L394.90,281.18 L396.40,281.19 L397.90,281.21 L399.40,281.22 L400.90,281.24 L402.40,281.26 L403.90,281.28 L405.40,281.30 L406.90,281.33 L408.40,281.36 L409.90,281.39 L411.40,281.42 L412.90,281.45 L414.40,281.49 L415.90,281.54 L417.40,281.59 L418.90,281.64 L420.40,281.70 L421.90,281.76 L423.40,281.83 L424.90,281.91 L426.40,281.99 L427.90,282.08 L429.40,282.19 L430.90,282.30 L432.40,282.42 L433.90,282.54 L435.40,282.67 L436.90,282.81 L438.40,282.97 L439.90,283.14 L441.40,283.32 L442.90,283.53 L444.40,283.75 L445.90,284.00 L447.40,284.27 L448.90,284.57 L450.40,284.90 L451.90,285.26 L453.40,285.67 L454.90,286.10 L456.40,286.55 L457.90,287.03 L459.40,287.54 L460.90,288.09 L462.30,288.64 L463.70,289.24 L465.10,289.88 L466.50,290.57 L467.90,291.29 L469.30,292.03 L470.70,292.78 L472.10,293.55 L473.50,294.34 L474.80,295.09 L476.10,295.86 L477.40,296.64 L478.70,297.44 L480.00,298.26 L481.30,299.09 L482.60,299.95 L483.90,300.86 L485.20,301.81 L486.50,302.77 L487.80,303.69 L489.10,304.52 L490.50,305.32 L491.90,306.07 L493.30,306.77 L494.70,307.39 L496.20,307.96 L497.70,308.43 L499.20,308.84 L500.70,309.23 L502.20,309.62 L502.75,309.75" stroke="#fe8a08"/>
<path d="M365.55,281.16 L367.05,281.17 L368.55,281.18 L370.05,281.19 L371.55,281.21 L373.05,281.22 L374.55,281.24 L376.05,281.26 L377.55,281.28 L379.05,281.30 L380.55,281.33 L382.05,281.36 L383.55,281.39 L385.05,281.42 L386.55,281.45 L388.05,281.49 L389.55,281.54 L391.05,281.59 L392.55,281.64 L394.05,281.70 L395.55,281.76 L397.05,281.83 L398.55,281.91 L400.05,281.99 L401.55,282.08 L403.05,282.19 L404.55,282.30 L406.05,282.42 L407.55,282.54 L409.05,282.67 L410.55,282.81 L412.05,282.97 L413.55,283.14 L415.05,283.32 L416.55,283.53 L418.05,283.75 L419.55,284.00 L421.05,284.27 L422.55,284.57 L424.05,284.90 L425.55,285.26 L427.05,285.67 L428.55,286.10 L430.05,286.55 L431.55,287.03 L433.05,287.54 L434.55,288.09 L435.95,288.64 L437.35,289.24 L438.75,289.88 L440.15,290.57 L441.55,291.29 L442.95,292.03 L444.35,292.78 L445.75,293.55 L447.15,294.34 L448.45,295.09 L449.75,295.86 L451.05,296.64 L452.35,297.44 L453.65,298.26 L454.95,299.09 L456.25,299.95 L457.55,300.86 L458.85,301.81 L460.15,302.77 L461.45,303.69 L462.75,304.52 L464.15,305.32 L465.55,306.07 L466.95,306.77 L468.35,307.39 L469.85,307.96 L471.35,308.43 L472.85,308.84 L474.35,309.23 L475.85,309.62 L476.40,309.75" stroke="#f45606"/>
<path d="M352.00,281.18 L353.50,281.19 L355.00,281.20 L356.50,281.22 L358.00,281.23 L359.50,281.25 L361.00,281.27 L362.50,281.29 L364.00,281.32 L365.50,281.34 L367.00,281.37 L368.50,281.40 L370.00,281.44 L371.50,281.48 L373.00,281.52 L374.50,281.56 L376.00,281.61 L377.50,281.67 L379.00,281.73 L380.50,281.80 L382.00,281.87 L383.50,281.95 L385.00,282.04 L386.50,282.14 L388.00,282.24 L389.50,282.36 L391.00,282.48 L392.50,282.61 L394.00,282.74 L395.50,282.89 L397.00,283.06 L398.50,283.23 L400.00,283.43 L401.50,283.64 L403.00,283.88 L404.50,284.14 L406.00,284.43 L407.50,284.74 L409.00,285.09 L410.50,285.47 L412.00,285.89 L413.50,286.33 L415.00,286.80 L416.50,287.30 L418.00,287.83 L419.50,288.40 L420.90,288.97 L422.30,289.60 L423.70,290.27 L425.10,290.98 L426.50,291.71 L427.90,292.45 L429.30,293.21 L430.70,294.00 L432.10,294.80 L433.40,295.56 L434.70,296.34 L436.00,297.13 L437.30,297.94 L438.60,298.77 L439.90,299.62 L441.20,300.50 L442.50,301.44 L443.80,302.41 L445.10,303.35 L446.40,304.22 L447.70,304.98 L449.10,305.76 L450.50,306.48 L451.90,307.14 L453.30,307.71 L454.80,308.22 L456.30,308.65 L457.80,309.05 L459.30,309.44 L460.55,309.75" stroke="#e02400"/>
<path d="M44.00,363.90 L100.00,363.85 L101.50,363.85 L103.00,363.85 L104.50,363.84 L106.00,363.84 L107.50,363.84 L109.00,363.84 L110.50,363.83 L112.00,363.83 L113.50,363.83 L115.00,363.82 L116.50,363.82 L118.00,363.81 L119.50,363.80 L121.00,363.79 L122.50,363.77 L124.00,363.75 L125.50,363.71 L127.00,363.66 L128.50,363.56 L130.00,363.44 L131.50,363.29 L133.00,363.12 L134.50,362.90 L136.00,362.66 L137.50,362.39 L139.00,362.10 L140.50,361.80 L142.00,361.50 L143.50,361.18 L145.00,360.78 L146.50,360.27 L147.90,359.69 L149.30,359.03 L150.70,358.31 L152.10,357.55 L153.40,356.80 L154.70,356.00 L156.00,355.13 L157.30,354.21 L158.50,353.31 L159.70,352.36 L160.90,351.36 L162.10,350.31 L163.20,349.20 L164.20,348.08 L165.30,346.87 L166.40,345.71 L167.50,344.56 L168.60,343.42 L169.70,342.27 L170.80,341.09 L171.90,339.89 L172.90,338.76 L173.90,337.60 L174.90,336.41 L175.90,335.20 L176.90,333.98 L177.90,332.75 L178.90,331.51 L179.90,330.26 L180.90,329.02 L181.90,327.79 L182.90,326.57 L183.90,325.34 L184.90,324.10 L185.90,322.85 L186.90,321.61 L187.90,320.37 L188.90,319.13 L189.90,317.92 L190.90,316.72 L191.90,315.54 L192.90,314.39 L193.90,313.24 L194.90,312.09 L195.90,310.95 L196.90,309.81 L197.90,308.69 L199.00,307.47 L200.10,306.28 L201.20,305.12 L202.30,303.99 L203.40,302.89 L204.50,301.84 L205.70,300.75 L206.90,299.70 L208.10,298.70 L209.30,297.74 L210.50,296.82 L211.80,295.86 L213.10,294.94 L214.40,294.08 L215.70,293.27 L217.00,292.50 L218.30,291.74 L219.60,290.95 L220.90,290.17 L222.30,289.39 L223.70,288.65 L225.10,287.94 L226.50,287.29 L227.90,286.70 L229.40,286.17 L230.90,285.70 L232.40,285.27 L233.90,284.89 L235.40,284.56 L236.90,284.26 L238.40,283.99 L239.90,283.75 L241.40,283.52 L242.90,283.31 L244.40,283.12 L245.90,282.93 L247.40,282.77 L248.90,282.63 L250.40,282.50 L251.90,282.40 L253.40,282.29 L254.90,282.18 L256.40,282.05 L257.90,281.91 L259.40,281.79 L260.90,281.70 L262.40,281.63 L263.90,281.56 L265.40,281.50 L266.90,281.44 L268.40,281.40 L269.90,281.35 L271.40,281.32 L272.90,281.28 L274.40,281.25 L275.90,281.22 L277.40,281.19 L278.90,281.17 L280.40,281.15 L281.90,281.13 L283.40,281.11 L284.90,281.09 L286.40,281.07 L287.90,281.06 L289.40,281.06 L290.90,281.06 L292.40,281.06 L293.90,281.06 L295.40,281.06 L296.90,281.06 L298.40,281.06 L299.90,281.06 L301.40,281.06 L302.90,281.06 L304.40,281.06 L305.90,281.07 L307.40,281.07 L308.90,281.07 L310.40,281.07 L311.90,281.07 L313.40,281.08 L314.90,281.08 L316.40,281.08 L317.90,281.08 L319.40,281.09 L320.90,281.09 L322.40,281.10 L323.90,281.10 L325.40,281.11 L326.90,281.11 L328.40,281.12 L329.90,281.12 L331.40,281.13 L332.90,281.14 L334.40,281.15 L335.90,281.16 L337.40,281.17 L338.90,281.18 L340.40,281.19 L341.90,281.21 L343.40,281.22 L344.90,281.24 L346.40,281.26 L347.90,281.28 L349.40,281.30 L350.90,281.32 L352.40,281.35 L353.90,281.38 L355.40,281.41 L356.90,281.45 L358.40,281.49 L359.90,281.53 L361.40,281.58 L362.90,281.63 L364.40,281.69 L365.90,281.75 L367.40,281.82 L368.90,281.89 L370.40,281.98 L371.90,282.07 L373.40,282.17 L374.90,282.28 L376.40,282.40 L377.90,282.52 L379.40,282.65 L380.90,282.79 L382.40,282.94 L383.90,283.11 L385.40,283.29 L386.90,283.49 L388.40,283.71 L389.90,283.96 L391.40,284.22 L392.90,284.52 L394.40,284.84 L395.90,285.20 L397.40,285.60 L398.90,286.02 L400.40,286.47 L401.90,286.95 L403.40,287.45 L404.90,287.99 L406.30,288.54 L407.70,289.13 L409.10,289.77 L410.50,290.45 L411.90,291.16 L413.30,291.90 L414.70,292.64 L416.10,293.41 L417.50,294.19 L418.80,294.94 L420.10,295.71 L421.40,296.49 L422.70,297.29 L424.00,298.10 L425.30,298.93 L426.60,299.78 L427.90,300.68 L429.20,301.63 L430.50,302.59 L431.80,303.52 L433.10,304.37 L434.40,305.12 L435.80,305.89 L437.20,306.60 L438.60,307.25 L440.00,307.80 L441.50,308.30 L443.00,308.72 L444.50,309.11 L446.00,309.50 L447.00,309.75" stroke="#b00a00"/>
</g>
<g id="axes" stroke="#b8b8b8" stroke-width="1" fill="none" shape-rendering="auto">
<line x1="34.3" y1="39.5" x2="579.8" y2="39.5"/>
<line x1="45.5" y1="36" x2="45.5" y2="374.8"/>
</g>
<g id="ticks" stroke="#9a9a9a" stroke-width="0.6" fill="none">
<line x1="60.5" y1="39.5" x2="60.5" y2="37.00"/>
<line x1="75.5" y1="39.5" x2="75.5" y2="37.00"/>
<line x1="90.5" y1="39.5" x2="90.5" y2="37.00"/>
<line x1="105.5" y1="39.5" x2="105.5" y2="37.00"/>
<line x1="120.5" y1="39.5" x2="120.5" y2="35.50"/>
<line x1="135.5" y1="39.5" x2="135.5" y2="37.00"/>
<line x1="150.5" y1="39.5" x2="150.5" y2="37.00"/>
<line x1="165.5" y1="39.5" x2="165.5" y2="37.00"/>
<line x1="180.5" y1="39.5" x2="180.5" y2="37.00"/>
<line x1="195.5" y1="39.5" x2="195.5" y2="35.50"/>
<line x1="210.5" y1="39.5" x2="210.5" y2="37.00"/>
<line x1="225.5" y1="39.5" x2="225.5" y2="37.00"/>
<line x1="241.5" y1="39.5" x2="241.5" y2="37.00"/>
<line x1="256.5" y1="39.5" x2="256.5" y2="37.00"/>
<line x1="271.5" y1="39.5" x2="271.5" y2="35.50"/>
<line x1="286.5" y1="39.5" x2="286.5" y2="37.00"/>
<line x1="301.5" y1="39.5" x2="301.5" y2="37.00"/>
<line x1="316.5" y1="39.5" x2="316.5" y2="37.00"/>
<line x1="331.5" y1="39.5" x2="331.5" y2="37.00"/>
<line x1="346.5" y1="39.5" x2="346.5" y2="35.50"/>
<line x1="361.5" y1="39.5" x2="361.5" y2="37.00"/>
<line x1="376.5" y1="39.5" x2="376.5" y2="37.00"/>
<line x1="391.5" y1="39.5" x2="391.5" y2="37.00"/>
<line x1="406.5" y1="39.5" x2="406.5" y2="37.00"/>
<line x1="421.5" y1="39.5" x2="421.5" y2="35.50"/>
<line x1="436.5" y1="39.5" x2="436.5" y2="37.00"/>
<line x1="451.5" y1="39.5" x2="451.5" y2="37.00"/>
<line x1="467.5" y1="39.5" x2="467.5" y2="37.00"/>
<line x1="482.5" y1="39.5" x2="482.5" y2="37.00"/>
<line x1="497.5" y1="39.5" x2="497.5" y2="35.50"/>
<line x1="512.5" y1="39.5" x2="512.5" y2="37.00"/>
<line x1="527.5" y1="39.5" x2="527.5" y2="37.00"/>
<line x1="542.5" y1="39.5" x2="542.5" y2="37.00"/>
<line x1="557.5" y1="39.5" x2="557.5" y2="37.00"/>
<line x1="572.5" y1="39.5" x2="572.5" y2="35.50"/>
<line x1="45.5" y1="374.57" x2="47.70" y2="374.57"/>
<line x1="45.5" y1="363.70" x2="49.10" y2="363.70"/>
<line x1="45.5" y1="352.83" x2="47.70" y2="352.83"/>
<line x1="45.5" y1="341.96" x2="47.70" y2="341.96"/>
<line x1="45.5" y1="331.09" x2="47.70" y2="331.09"/>
<line x1="45.5" y1="320.22" x2="47.70" y2="320.22"/>
<line x1="45.5" y1="309.35" x2="49.10" y2="309.35"/>
<line x1="45.5" y1="298.48" x2="47.70" y2="298.48"/>
<line x1="45.5" y1="287.61" x2="47.70" y2="287.61"/>
<line x1="45.5" y1="276.74" x2="47.70" y2="276.74"/>
<line x1="45.5" y1="265.87" x2="47.70" y2="265.87"/>
<line x1="45.5" y1="255.00" x2="49.10" y2="255.00"/>
<line x1="45.5" y1="244.13" x2="47.70" y2="244.13"/>
<line x1="45.5" y1="233.26" x2="47.70" y2="233.26"/>
<line x1="45.5" y1="222.39" x2="47.70" y2="222.39"/>
<line x1="45.5" y1="211.52" x2="47.70" y2="211.52"/>
<line x1="45.5" y1="200.65" x2="49.10" y2="200.65"/>
<line x1="45.5" y1="189.78" x2="47.70" y2="189.78"/>
<line x1="45.5" y1="178.91" x2="47.70" y2="178.91"/>
<line x1="45.5" y1="168.04" x2="47.70" y2="168.04"/>
<line x1="45.5" y1="157.17" x2="47.70" y2="157.17"/>
<line x1="45.5" y1="146.30" x2="49.10" y2="146.30"/>
<line x1="45.5" y1="135.43" x2="47.70" y2="135.43"/>
<line x1="45.5" y1="124.56" x2="47.70" y2="124.56"/>
<line x1="45.5" y1="113.69" x2="47.70" y2="113.69"/>
<line x1="45.5" y1="102.82" x2="47.70" y2="102.82"/>
<line x1="45.5" y1="91.95" x2="49.10" y2="91.95"/>
<line x1="45.5" y1="81.08" x2="47.70" y2="81.08"/>
<line x1="45.5" y1="70.21" x2="47.70" y2="70.21"/>
<line x1="45.5" y1="59.34" x2="47.70" y2="59.34"/>
<line x1="45.5" y1="48.47" x2="47.70" y2="48.47"/>
<line x1="45.5" y1="37.60" x2="49.10" y2="37.60"/>
</g>
<g id="markers" fill="#000000" stroke="none">
<path d="M364.05,93.10 l3.95,-3.65 l3.95,3.65 l-3.95,3.65 z"/>
<path d="M375.50,93.10 l3.95,-3.65 l3.95,3.65 l-3.95,3.65 z"/>
<path d="M387.55,93.10 l3.95,-3.65 l3.95,3.65 l-3.95,3.65 z"/>
<path d="M400.05,93.10 l3.95,-3.65 l3.95,3.65 l-3.95,3.65 z"/>
<path d="M414.05,93.10 l3.95,-3.65 l3.95,3.65 l-3.95,3.65 z"/>
<path d="M431.25,93.10 l3.95,-3.65 l3.95,3.65 l-3.95,3.65 z"/>
<path d="M471.55,93.10 l3.95,-3.65 l3.95,3.65 l-3.95,3.65 z"/>
<path d="M489.45,93.10 l3.95,-3.65 l3.95,3.65 l-3.95,3.65 z"/>
<path d="M565.15,93.10 l3.95,-3.65 l3.95,3.65 l-3.95,3.65 z"/>
<path d="M443.45,312.00 l3.95,-3.65 l3.95,3.65 l-3.95,3.65 z"/>
<path d="M456.85,312.00 l3.95,-3.65 l3.95,3.65 l-3.95,3.65 z"/>
<path d="M472.45,312.00 l3.95,-3.65 l3.95,3.65 l-3.95,3.65 z"/>
<path d="M499.55,312.00 l3.95,-3.65 l3.95,3.65 l-3.95,3.65 z"/>
<path d="M511.35,312.00 l3.95,-3.65 l3.95,3.65 l-3.95,3.65 z"/>
<path d="M522.85,312.00 l3.95,-3.65 l3.95,3.65 l-3.95,3.65 z"/>
<path d="M534.95,312.00 l3.95,-3.65 l3.95,3.65 l-3.95,3.65 z"/>
</g>
<g id="ticklabels" fill="#666666" font-size="15.0px">
<path d="M112.17,58.55 L110.90,58.55 L110.90,50.46 Q110.44,50.90 109.70,51.34 Q108.95,51.77 108.36,51.99 L108.36,50.77 Q109.43,50.27 110.22,49.55 Q111.02,48.84 111.35,48.17 L112.17,48.17 Z"/>
<text x="115.13" y="58.55">00</text>
<text x="194.64" y="58.55" text-anchor="middle">200</text>
<text x="269.97" y="58.55" text-anchor="middle">300</text>
<text x="345.30" y="58.55" text-anchor="middle">400</text>
<text x="420.64" y="58.55" text-anchor="middle">500</text>
<text x="495.97" y="58.55" text-anchor="middle">600</text>
<text x="571.30" y="58.55" text-anchor="middle">700</text>
<text x="38.9" y="97.85" text-anchor="end">0.75</text>
<rect x="0.9" y="93.10" width="7.25" height="1.1"/>
<text x="38.9" y="152.20" text-anchor="end">0.80</text>
<rect x="0.9" y="147.45" width="7.25" height="1.1"/>
<text x="38.9" y="206.55" text-anchor="end">0.85</text>
<rect x="0.9" y="201.80" width="7.25" height="1.1"/>
<text x="38.9" y="260.90" text-anchor="end">0.90</text>
<rect x="0.9" y="256.15" width="7.25" height="1.1"/>
<text x="38.9" y="315.25" text-anchor="end">0.95</text>
<rect x="0.9" y="310.50" width="7.25" height="1.1"/>
<path d="M15.08,369.60 L13.82,369.60 L13.82,361.51 Q13.36,361.95 12.61,362.39 Q11.87,362.82 11.28,363.04 L11.28,361.82 Q12.34,361.32 13.14,360.60 Q13.94,359.89 14.27,359.22 L15.08,359.22 Z"/>
<text x="38.9" y="369.60" text-anchor="end">.00</text>
<rect x="0.9" y="364.85" width="7.25" height="1.1"/>
</g>
<g id="axislabels" fill="#666666">
<text x="14.6" y="22.7" font-size="22px">&lt;</text>
<text transform="translate(29.2,22.7) scale(1.055,1)" x="0" y="0" font-size="22px">m</text>
<text x="50.0" y="22.7" font-size="22px">&gt;</text>
<text x="63.6" y="27.6" font-size="17.4px" font-style="italic">T</text>
<text x="591.6" y="47.4" font-size="22px">t</text>
</g>
</svg>
</body>
</html>
